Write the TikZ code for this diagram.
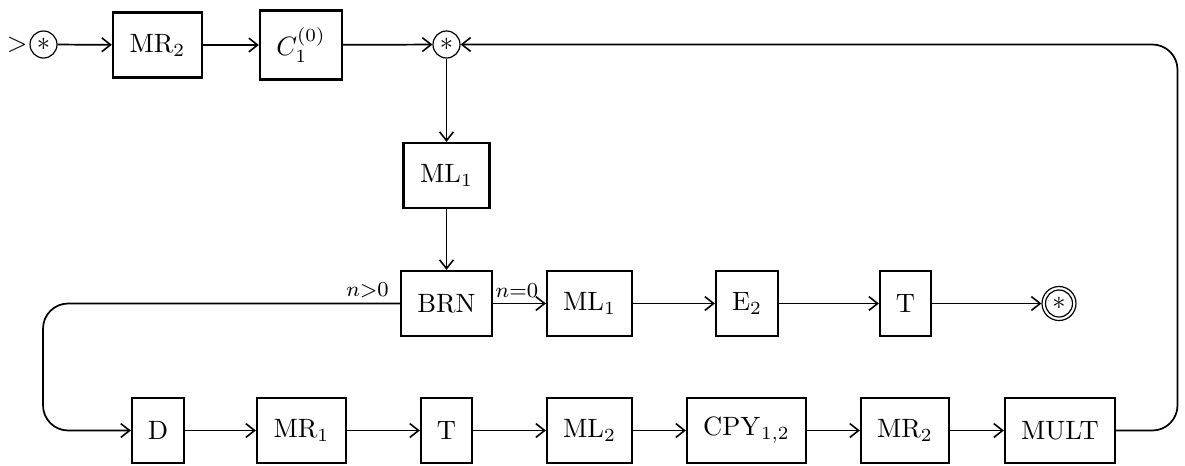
\documentclass[tikz,border=0pt]{standalone}
\usetikzlibrary{arrows.meta}
\begin{document}
\begin{tikzpicture}[x=0.377pt,y=-0.377pt,
  >={Straight Barb[length=3.3pt,width=5.2pt,line width=0.6pt]},
  box/.style={draw,line width=0.85pt,minimum height=24.5pt,inner sep=2pt},
  wd/.style={minimum width={#1*0.377pt}},
  st/.style={draw,circle,line width=0.45pt,inner sep=0pt,minimum size={27*0.377pt}},
  conn/.style={->,line width=0.65pt},
  lbl/.style={font=\footnotesize,inner sep=2pt}]
\useasboundingbox (0,0) rectangle (1185,465);
% top row
\node[st] (s0) at (43.5,44.5) {$*$};
\node[anchor=east,inner sep=0.5pt] (gt) at (s0.west) {$>$};
\node[box,wd=89] (mr2a) at (157.5,45) {$\mathrm{MR}_2$};
\node[box,wd=82,minimum height={69*0.377pt}] (c1) at (301,45) {$C_1^{(0)}$};
\node[st] (s1) at (446.5,44.5) {$*$};
% column
\node[box,wd=86] (ml1a) at (446.5,175.5) {$\mathrm{ML}_1$};
% second row
\node[box,wd=91] (brn) at (446.5,303.5) {BRN};
\node[box,wd=85] (ml1b) at (589.5,303.5) {$\mathrm{ML}_1$};
\node[box,wd=62] (e2) at (747,303.5) {$\mathrm{E}_2$};
\node[box,wd=51] (t1) at (905.5,303.5) {T};
\node[st] (fin) at (1059,303.5) {$*$};
\node[draw,circle,line width=0.45pt,inner sep=0pt,minimum size={34*0.377pt}] (fino) at (fin) {};
% third row
\node[box,wd=52] (d) at (158,430.5) {D};
\node[box,wd=89] (mr1) at (301.5,430.5) {$\mathrm{MR}_1$};
\node[box,wd=51] (t2) at (446.5,430.5) {T};
\node[box,wd=85] (ml2) at (589.5,430.5) {$\mathrm{ML}_2$};
\node[box,wd=119] (cpy) at (746.5,430.5) {$\mathrm{CPY}_{1,2}$};
\node[box,wd=88] (mr2b) at (905,430.5) {$\mathrm{MR}_2$};
\node[box,wd=110] (mult) at (1060,430.5) {MULT};
\coordinate (lx) at (43,0);
\coordinate (rx) at (1177.5,0);
% connectors
\draw[conn] (s0) -- (mr2a);
\draw[conn] (mr2a) -- (c1);
\draw[conn] (c1) -- (s1);
\draw[conn] (s1) -- (ml1a);
\draw[conn] (ml1a) -- (brn);
\draw[conn] (brn) -- node[lbl,above,pos=0.45] {$n{=}0$} (ml1b);
\draw[conn] (ml1b) -- (e2);
\draw[conn] (e2) -- (t1);
\draw[conn] (t1) -- (fino);
\node[lbl,anchor=south east,xshift=-2pt] (lbgt) at (brn.west) {$n{>}0$};
\draw[conn,rounded corners=9.5pt] (brn.west) -- (brn.west -| lx) -- (d.west -| lx) -- (d.west);
\draw[conn] (d) -- (mr1);
\draw[conn] (mr1) -- (t2);
\draw[conn] (t2) -- (ml2);
\draw[conn] (ml2) -- (cpy);
\draw[conn] (cpy) -- (mr2b);
\draw[conn] (mr2b) -- (mult);
\draw[conn,rounded corners=9.5pt] (mult.east) -- (mult.east -| rx) -- (s1.east -| rx) -- (s1.east);
\end{tikzpicture}
\end{document}
